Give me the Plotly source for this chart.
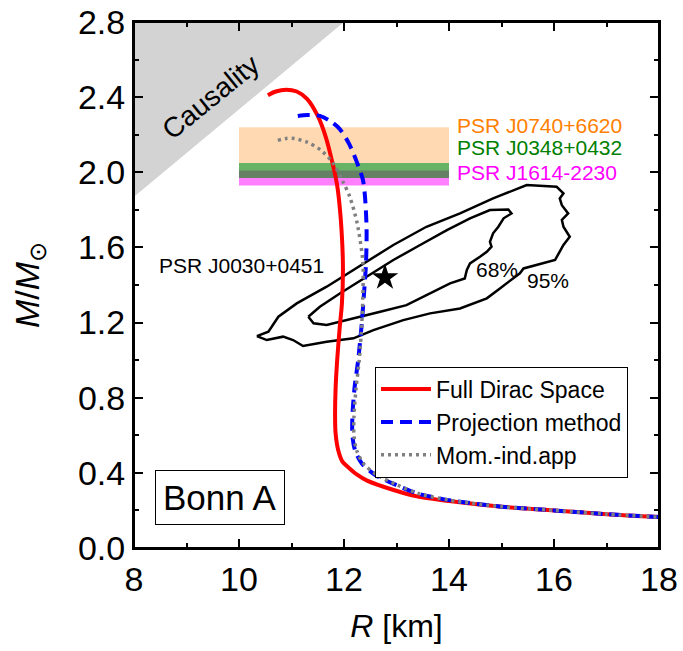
import plotly.graph_objects as go

# ---------------- data ----------------
red_R = [10.55, 10.70, 10.90, 11.10, 11.30, 11.50, 11.65, 11.78, 11.87, 11.93, 11.97, 11.98, 11.96, 11.92,
         11.87, 11.84, 11.83, 11.84, 11.89, 11.97, 12.08, 12.25, 12.43, 12.93, 13.39, 14.0, 15.0, 16.0, 17.0, 18.0]
red_M = [2.41, 2.43, 2.44, 2.43, 2.39, 2.30, 2.19, 2.05, 1.93, 1.78, 1.60, 1.48, 1.30, 1.18,
         1.00, 0.85, 0.70, 0.61, 0.52, 0.46, 0.43, 0.39, 0.36, 0.31, 0.275, 0.25, 0.22, 0.20, 0.18, 0.165]

blue_R = [11.12, 11.30, 11.54, 11.75, 11.92, 12.10, 12.25, 12.36, 12.40, 12.43, 12.42, 12.38, 12.34, 12.27,
          12.20, 12.16, 12.16, 12.21, 12.34, 12.59, 13.0, 13.4, 14.0, 15.0, 16.0, 17.0, 18.0]
blue_M = [2.30, 2.305, 2.30, 2.27, 2.23, 2.15, 2.05, 1.96, 1.87, 1.70, 1.52, 1.35, 1.20, 1.00,
          0.85, 0.70, 0.60, 0.52, 0.45, 0.39, 0.335, 0.29, 0.255, 0.22, 0.20, 0.18, 0.165]

gray_R = [10.74, 10.90, 11.05, 11.30, 11.55, 11.79, 11.98, 12.11, 12.25, 12.36, 12.36, 12.34, 12.29,
          12.23, 12.19, 12.19, 12.24, 12.37, 12.62, 13.02, 13.42, 14.0, 15.0, 16.0, 17.0, 18.0]
gray_M = [2.17, 2.18, 2.18, 2.16, 2.12, 2.05, 1.95, 1.87, 1.73, 1.52, 1.35, 1.20, 1.00,
          0.85, 0.70, 0.60, 0.52, 0.45, 0.39, 0.335, 0.29, 0.255, 0.22, 0.20, 0.18, 0.165]

c95_R = [10.34, 10.56, 10.75, 11.10, 11.67, 12.18, 12.56, 12.94, 13.57, 14.21, 14.84, 15.48, 16.05, 16.18,
         16.11, 16.15, 16.27, 16.15, 16.18, 16.30, 16.18, 16.08, 16.02, 15.42, 15.35, 14.97, 14.72, 14.21,
         13.64, 13.13, 12.56, 12.18, 11.67, 11.22, 11.03, 10.84, 10.53, 10.34]
c95_M = [1.128, 1.151, 1.231, 1.302, 1.391, 1.480, 1.550, 1.613, 1.710, 1.781, 1.861, 1.932, 1.923, 1.888,
         1.861, 1.825, 1.781, 1.746, 1.710, 1.657, 1.613, 1.559, 1.533, 1.488, 1.462, 1.382, 1.329, 1.275,
         1.249, 1.213, 1.160, 1.116, 1.098, 1.075, 1.107, 1.125, 1.107, 1.128]

c68_R = [11.32, 11.54, 11.92, 12.43, 12.94, 13.45, 13.96, 14.40, 14.78, 15.13, 15.19, 15.04, 14.94, 14.84,
         14.78, 14.81, 14.72, 14.59, 14.40, 14.34, 14.30, 14.02, 13.70, 13.19, 12.69, 12.30, 11.92, 11.67,
         11.42, 11.32]
c68_M = [1.231, 1.284, 1.355, 1.444, 1.533, 1.613, 1.692, 1.755, 1.799, 1.802, 1.781, 1.755, 1.710, 1.675,
         1.630, 1.604, 1.577, 1.550, 1.515, 1.480, 1.435, 1.409, 1.364, 1.293, 1.258, 1.231, 1.205, 1.187,
         1.196, 1.231]

star_R = [12.78]
star_M = [1.44]

causal_R = [8.0, 8.0, 12.0]
causal_M = [1.87, 2.8, 2.8]

band_R = [10.0, 14.0]
band_names = ["PSR J1614-2230", "PSR J0348+0432", "PSR J0740+6620"]
band_lo = [1.93, 1.97, 2.05]
band_hi = [2.01, 2.05, 2.24]
band_fill = ["rgba(255,0,255,0.5)", "rgba(0,128,0,0.6)", "rgba(255,128,0,0.3)"]
band_text_color = ["#ff00ff", "#008000", "#ff8000"]
band_label_M = [2.00, 2.13, 2.25]

x_ticks = [8, 10, 12, 14, 16, 18]
y_ticks = [0.0, 0.4, 0.8, 1.2, 1.6, 2.0, 2.4, 2.8]

FONT = "Liberation Sans, Arial, sans-serif"

fig = go.Figure()

# causality region
fig.add_trace(go.Scatter(x=causal_R + [causal_R[0]], y=causal_M + [causal_M[0]], mode="lines",
                         fill="toself", fillcolor="#d3d3d3", line=dict(width=0, color="#d3d3d3"),
                         showlegend=False, hoverinfo="skip"))

# mass bands
for lo, hi, fc in zip(band_lo, band_hi, band_fill):
    fig.add_trace(go.Scatter(x=[band_R[0], band_R[1], band_R[1], band_R[0], band_R[0]],
                             y=[lo, lo, hi, hi, lo], mode="lines", fill="toself",
                             fillcolor=fc, line=dict(width=0, color=fc),
                             showlegend=False, hoverinfo="skip"))

# NICER contours
for cr, cm in [(c95_R, c95_M), (c68_R, c68_M)]:
    fig.add_trace(go.Scatter(x=cr, y=cm, mode="lines", line=dict(color="black", width=2.5),
                             showlegend=False, hoverinfo="skip"))

fig.add_trace(go.Scatter(x=star_R, y=star_M, mode="markers",
                         marker=dict(symbol="star", size=20, color="black"),
                         showlegend=False))

# EOS curves
fig.add_trace(go.Scatter(x=red_R, y=red_M, mode="lines", name="Full Dirac Space",
                         line=dict(color="#ff0000", width=4, shape="spline", smoothing=0.8)))
fig.add_trace(go.Scatter(x=blue_R, y=blue_M, mode="lines", name="Projection method",
                         line=dict(color="#0000ff", width=4, dash="12px,7px", shape="spline", smoothing=0.8)))
fig.add_trace(go.Scatter(x=gray_R, y=gray_M, mode="lines", name="Mom.-ind.app",
                         line=dict(color="#808080", width=3.5, dash="3px,4px", shape="spline", smoothing=0.8)))

annotations = []
for name, ym, col in zip(band_names, band_label_M, band_text_color):
    annotations.append(dict(x=14.11, y=ym, xref="x", yref="y", text=name, showarrow=False,
                            xanchor="left", yanchor="middle", font=dict(size=21, color=col, family=FONT)))
annotations += [
    dict(x=10.04, y=1.506, text="PSR J0030+0451", showarrow=False, font=dict(size=21, color="black", family=FONT)),
    dict(x=14.91, y=1.48, text="68%", showarrow=False, font=dict(size=21, color="black", family=FONT)),
    dict(x=15.89, y=1.426, text="95%", showarrow=False, font=dict(size=21, color="black", family=FONT)),
    dict(x=9.45, y=2.40, text="Causality", showarrow=False, textangle=-39,
         font=dict(size=28, color="black", family=FONT)),
    dict(x=9.64, y=0.271, text="Bonn A", showarrow=False, bordercolor="black", borderwidth=1,
         borderpad=7, bgcolor="white", font=dict(size=35, color="black", family=FONT)),
]

axis_common = dict(showline=True, linewidth=2, linecolor="black", mirror="ticks",
                   ticks="inside", ticklen=9, tickwidth=2, tickcolor="black",
                   showgrid=False, zeroline=False, automargin=False, ticklabeloverflow="allow",
                   tickfont=dict(size=34, color="black", family=FONT))

fig.update_layout(
    width=683, height=651,
    margin=dict(l=134, r=24, t=22, b=103),
    plot_bgcolor="white", paper_bgcolor="white",
    font=dict(family=FONT, color="black"),
    xaxis=dict(range=[8, 18], tickvals=x_ticks, ticktext=[str(v) for v in x_ticks],
               minor=dict(ticks="inside", ticklen=5, tickwidth=2, dtick=1, tickcolor="black", showgrid=False),
               title=dict(text="<i>R</i> [km]", font=dict(size=32, family=FONT), standoff=18),
               **axis_common),
    yaxis=dict(range=[0, 2.8], tickvals=y_ticks, ticktext=[f"{v:.1f}" for v in y_ticks],
               minor=dict(ticks="inside", ticklen=5, tickwidth=2, dtick=0.2, tickcolor="black", showgrid=False),
               title=dict(text="<i>M</i>/<i>M</i><sub>⊙</sub>", font=dict(size=34, family=FONT), standoff=28),
               **axis_common),
    legend=dict(x=0.459, y=0.345, xanchor="left", yanchor="top", bordercolor="black", borderwidth=1,
                bgcolor="white", font=dict(size=23, family=FONT), tracegroupgap=0,
                itemwidth=50, entrywidth=272, entrywidthmode="pixels"),
    annotations=annotations,
    shapes=[dict(type="rect", xref="paper", yref="paper", x0=0, x1=1, y0=0, y1=1,
                 line=dict(color="black", width=2), fillcolor="rgba(0,0,0,0)", layer="above")],
)

# remove the default 8px page margin so the figure sits at the window's top-left corner
fig.write_html("out.html", config={"displayModeBar": False},
               post_script="document.body.style.margin='0';document.body.style.overflow='hidden';")
